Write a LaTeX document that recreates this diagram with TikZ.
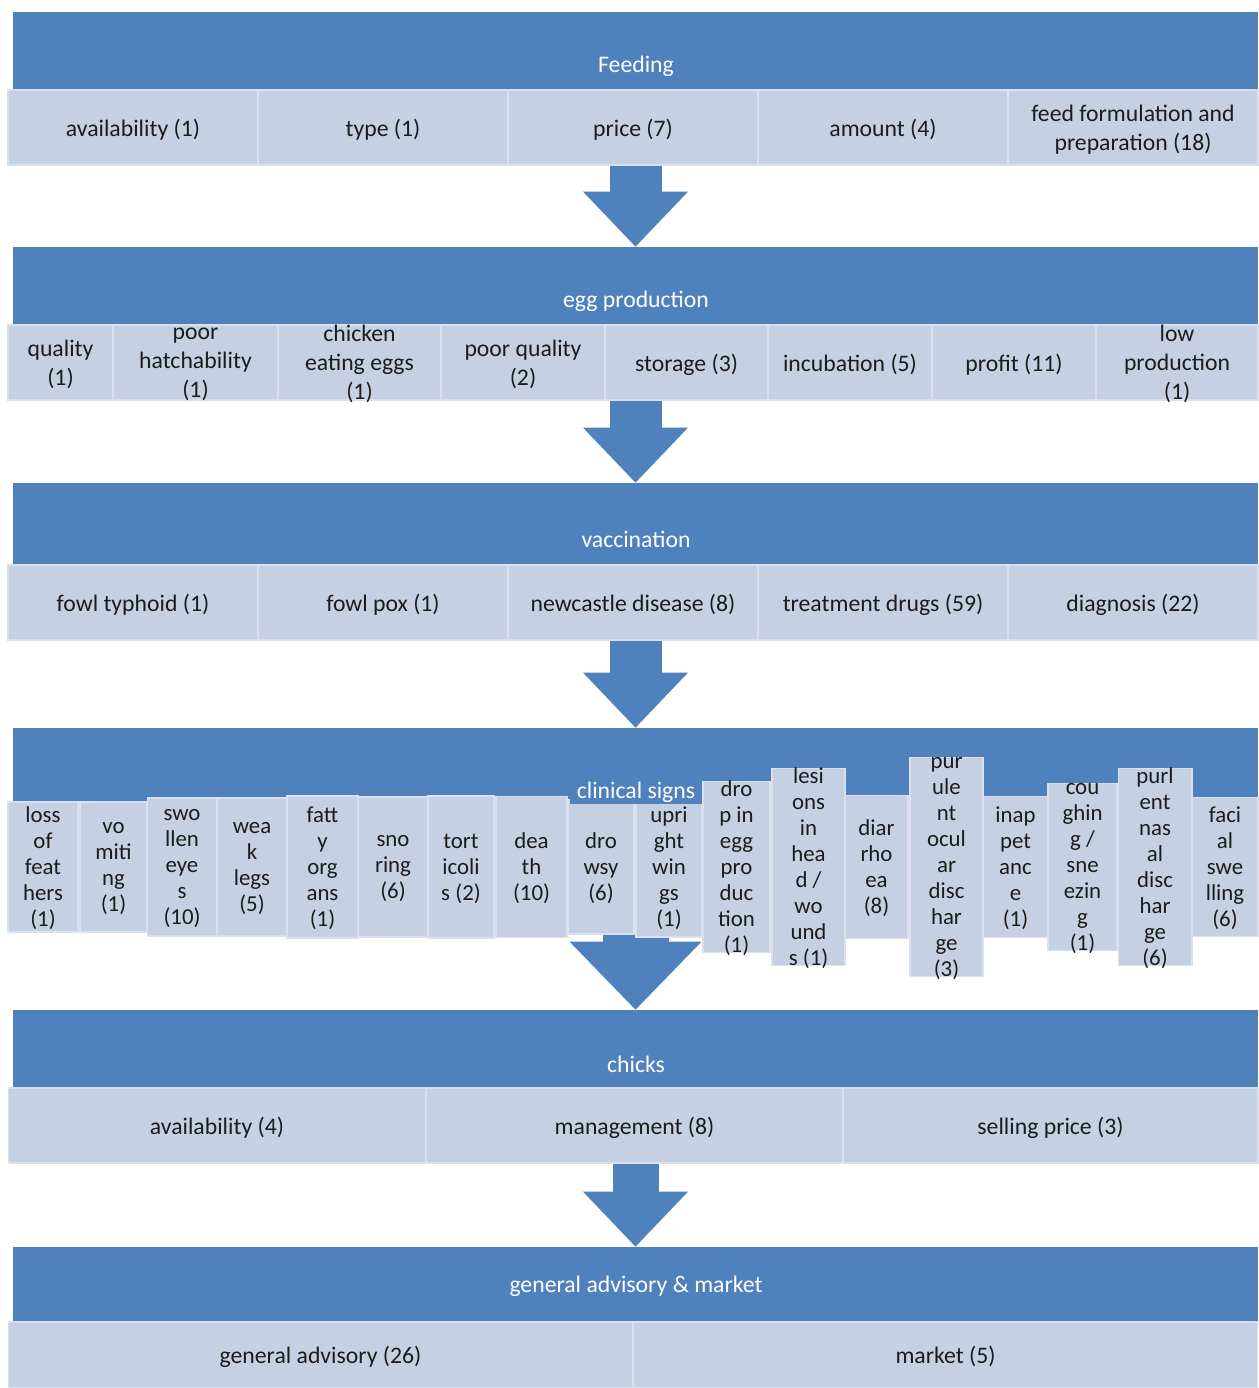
\documentclass[tikz,border=0pt]{standalone}
\usepackage{fontspec}
\setmainfont{Carlito}
\usetikzlibrary{arrows.meta}

\definecolor{barblue}{RGB}{79,129,189}
\definecolor{cellblue}{RGB}{198,208,227}
\definecolor{celltext}{RGB}{28,28,28}

\tikzset{
  headbar/.style={fill=barblue, minimum width=24.9cm, minimum height=1.56cm, inner sep=0pt},
  headtext/.style={text=white, inner sep=1pt, font=\fontsize{13.5}{16.5}\selectfont},
  cell/.style={fill=cellblue, draw=white!35!cellblue, line width=0.6pt, inner sep=0pt,
    text depth=0pt, align=center, text=celltext, font=\fontsize{13.5}{16.5}\selectfont},
  signcell/.style={cell, font=\fontsize{13}{14.8}\selectfont},
  bigarrow/.style={barblue, line width=1.04cm,
    -{Triangle[width=2.1cm,length=1.1cm,line width=0pt]}}
}

\begin{document}
\begin{tikzpicture}[x=0.02cm, y=-0.02cm]

      \useasboundingbox (0,0) rectangle (1258,1388);

      % header bars
      \node[headbar] (feedbar) at (635.5,51) {};
      \node[headbar] (eggbar) at (635.5,286) {};
      \node[headbar, minimum height=1.64cm] (vacbar) at (635.5,524) {};
      \node[headbar, minimum height=1.54cm] (signbar) at (635.5,766.5) {};
      \node[headbar] (chickbar) at (635.5,1049) {};
      \node[headbar, minimum height=1.5cm] (genbar) at (635.5,1284.5) {};

      \node[headtext] (feedlbl) at (636,66) {Feeding};
      \node[headtext] (egglbl) at (636,301) {egg production};
      \node[headtext] (vaclbl) at (636,539) {vaccination};
      \node[headtext] (chicklbl) at (636,1064) {chicks};
      \node[headtext] (genlbl) at (636,1286) {general advisory \& market};

      % feeding
      \begin{scope}[every node/.style={cell, minimum width=5cm, minimum height=1.5cm}]
        \node (f1) at (133,127.5) {availability (1)};
        \node (f2) at (383,127.5) {type (1)};
        \node (f3) at (633,127.5) {price (7)};
        \node (f4) at (883,127.5) {amount (4)};
        \node (f5) at (1133,127.5) {feed formulation and\\preparation (18)};
      \end{scope}

      % egg production
      \begin{scope}[every node/.style={cell, minimum height=1.5cm}]
        \node[minimum width=2.1cm] (e1) at (60.5,362.5) {quality\\(1)};
        \node[minimum width=3.3cm] (e2) at (195.5,362.5) {poor\\hatchability\\(1)};
        \node[minimum width=3.26cm] (e3) at (359.5,362.5) {chicken\\eating eggs\\(1)};
        \node[minimum width=3.28cm] (e4) at (523,362.5) {poor quality\\(2)};
        \node[minimum width=3.26cm] (e5) at (686.5,362.5) {storage (3)};
        \node[minimum width=3.28cm] (e6) at (850,362.5) {incubation (5)};
        \node[minimum width=3.28cm] (e7) at (1014,362.5) {profit (11)};
        \node[minimum width=3.24cm] (e8) at (1177,362.5) {low\\production\\(1)};
      \end{scope}

      % vaccination
      \begin{scope}[every node/.style={cell, minimum width=5cm, minimum height=1.5cm}]
        \node (v1) at (133,602.5) {fowl typhoid (1)};
        \node (v2) at (383,602.5) {fowl pox (1)};
        \node (v3) at (633,602.5) {newcastle disease (8)};
        \node (v4) at (883,602.5) {treatment drugs (59)};
        \node (v5) at (1133,602.5) {diagnosis (22)};
      \end{scope}

      % chicks
      \begin{scope}[every node/.style={cell, minimum height=1.5cm}]
        \node[minimum width=8.36cm] (c1) at (217,1125.5) {availability (4)};
        \node[minimum width=8.34cm] (c2) at (634.5,1125.5) {management (8)};
        \node[minimum width=8.3cm] (c3) at (1050.5,1125.5) {selling price (3)};
      \end{scope}

      % general advisory & market
      \begin{scope}[every node/.style={cell, minimum width=12.5cm, minimum height=1.32cm}]
        \node (g1) at (320.5,1355) {general advisory (26)};
        \node (g2) at (945.5,1355) {market (5)};
      \end{scope}

      % arrows between the stages
      \draw[bigarrow] (f3.south -| eggbar.north) -- (eggbar.north);
      \draw[bigarrow] (e4.south -| vacbar.north) -- (vacbar.north);
      \draw[bigarrow] (v3.south -| signbar.north) -- (signbar.north);
      \draw[bigarrow, line width=1.32cm,
        -{Triangle[width=2.64cm,length=1.36cm,line width=0pt]}] (signbar.south) -- (chickbar.north);
      \draw[bigarrow, line width=0.92cm] (c2.south -| genbar.north) -- (genbar.north);

      % clinical signs
      \begin{scope}[every node/.style={signcell}]
        \node[minimum width=1.4cm, minimum height=2.6cm] (s1) at (43,867) {loss\\of\\feat\\hers\\(1)};
        \node[minimum width=1.34cm, minimum height=2.6cm] (s2) at (113.5,867) {vo\\miti\\ng\\(1)};
        \node[minimum width=1.38cm, minimum height=2.76cm] (s3) at (182,867) {swo\\llen\\eye\\s\\(10)};
        \node[minimum width=1.4cm, minimum height=2.76cm] (s4) at (252,867) {wea\\k\\legs\\(5)};
        \node[minimum width=1.42cm, minimum height=2.84cm] (s5) at (322.5,867) {fatt\\y\\org\\ans\\(1)};
        \node[minimum width=1.4cm, minimum height=2.8cm] (s6) at (393,867) {sno\\ring\\(6)};
        \node[minimum width=1.32cm, minimum height=2.84cm] (s7) at (461,867) {tort\\icoli\\s (2)};
        \node[minimum width=1.42cm, minimum height=2.82cm] (s8) at (531.5,867) {dea\\th\\(10)};
        \node[minimum width=1.32cm, minimum height=2.68cm] (s9) at (601,867) {dro\\wsy\\(6)};
        \node[minimum width=1.32cm, minimum height=2.8cm] (s10) at (669,867) {upri\\ght\\win\\gs\\(1)};
        \node[minimum width=1.34cm, minimum height=3.34cm] (s11) at (736.5,867) {dro\\p in\\egg\\pro\\duc\\tion\\(1)};
        \node[minimum width=1.46cm, minimum height=3.3cm] (s12) at (808.5,867) {lesi\\ons\\in\\hea\\d /\\wo\\und\\s (1)};
        \node[minimum width=1.26cm, minimum height=2.86cm] (s13) at (876.5,867) {diar\\rho\\ea\\(8)};
        \node[minimum width=1.46cm, minimum height=3.52cm] (s14) at (946.5,867) {pur\\ule\\nt\\ocul\\ar\\disc\\har\\ge\\(3)};
        \node[minimum width=1.3cm, minimum height=2.82cm] (s15) at (1015.5,867) {inap\\pet\\anc\\e\\(1)};
        \node[minimum width=1.38cm, minimum height=2.84cm] (s16) at (1082.5,867) {cou\\ghin\\g /\\sne\\ezin\\g\\(1)};
        \node[minimum width=1.48cm, minimum height=3.34cm] (s17) at (1155,867) {purl\\ent\\nas\\al\\disc\\har\\ge\\(6)};
        \node[minimum width=1.32cm, minimum height=2.78cm] (s18) at (1225,867) {faci\\al\\swe\\lling\\(6)};
      \end{scope}

      \node[headtext, fill=barblue, inner xsep=4pt] (signlbl) at (636,792) {clinical signs};

    \end{tikzpicture}
\end{document}
